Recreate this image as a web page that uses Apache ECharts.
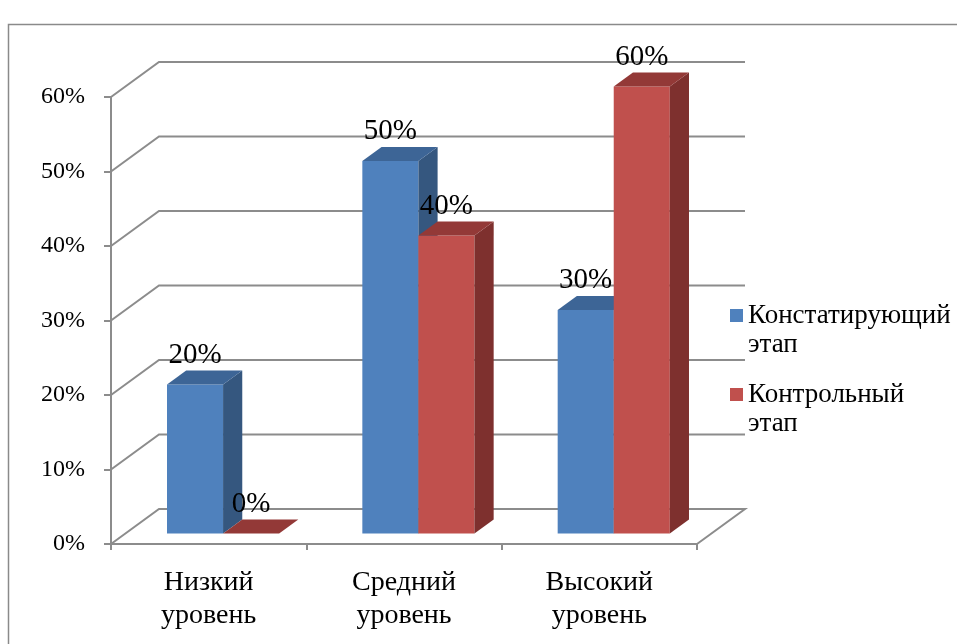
<!DOCTYPE html>
<html>
<head>
<meta charset="utf-8">
<script src="https://cdn.jsdelivr.net/npm/echarts@6/dist/echarts.min.js"></script>
<style>
html,body{margin:0;padding:0;background:#fff;}
#chart{width:957px;height:644px;}
</style>
</head>
<body>
<div id="chart"></div>
<script>
// ---- data ----
const categories = ['Низкий уровень', 'Средний уровень', 'Высокий уровень'];
const seriesNames = ['Констатирующий этап', 'Контрольный этап'];
const valuesConst = [20, 50, 30];
const valuesControl = [0, 40, 60];
const yTicks = [0, 10, 20, 30, 40, 50, 60];

// ---- styling ----
const FONT = "'Liberation Serif', 'Times New Roman', serif";
const GRID_COLOR = '#8c8c8c';
const DX = 48, DY = -35;      // full depth of the 3D box
const F0 = 0.3, FD = 0.4;     // bar front depth fraction and bar depth fraction
const BAR_FRAC = 0.287;       // bar width as fraction of the band
const palettes = [
  { front: '#4F81BD', top: '#3D6596', side: '#35577F' },
  { front: '#C0504D', top: '#933937', side: '#7E302E' }
];

function wallRender(params, api) {
  const v = api.value(1);
  const band = api.size([1, 0])[0];
  const last = categories.length - 1;
  const pl = api.coord([0, v]);
  const pr = api.coord([last, v]);
  const lx = pl[0] - band / 2, rx = pr[0] + band / 2, y = pl[1];
  const pts = [[lx, y], [lx + DX, y + DY], [rx + DX, y + DY]];
  if (v === 0) pts.push([rx, y]);
  return {
    type: 'polyline',
    shape: { points: pts },
    style: { stroke: GRID_COLOR, lineWidth: 2, fill: null },
    silent: true
  };
}

function barRender(si) {
  return function (params, api) {
    const cat = api.value(0), v = api.value(1);
    const band = api.size([1, 0])[0];
    const base = api.coord([cat, 0]);
    const top = api.coord([cat, v]);
    const bw = band * BAR_FRAC;
    const sx = DX * F0, sy = DY * F0;
    const ddx = DX * FD, ddy = DY * FD;
    const x0 = base[0] + (si === 0 ? -bw : 0) + sx;
    const x1 = x0 + bw;
    const yb = base[1] + sy, yt = top[1] + sy;
    const p = palettes[si];
    const children = [];
    if (yb - yt > 0.5) {
      children.push({ type: 'rect', shape: { x: x0, y: yt, width: bw, height: yb - yt }, style: { fill: p.front } });
      children.push({ type: 'polygon', shape: { points: [[x1, yt], [x1 + ddx, yt + ddy], [x1 + ddx, yb + ddy], [x1, yb]] }, style: { fill: p.side } });
    }
    children.push({ type: 'polygon', shape: { points: [[x0, yt], [x1, yt], [x1 + ddx, yt + ddy], [x0 + ddx, yt + ddy]] }, style: { fill: p.top } });
    children.push({
      type: 'text', z2: 100,
      style: {
        text: v + '%', x: (x0 + x1) / 2, y: yt - 15,
        align: 'center', verticalAlign: 'bottom',
        font: '29px ' + FONT, fill: '#000'
      }
    });
    return { type: 'group', children: children };
  };
}

const chart = echarts.init(document.getElementById('chart'), null, { renderer: 'canvas' });
chart.setOption({
  backgroundColor: '#fff',
  animation: false,
  graphic: [{
    type: 'rect', silent: true,
    shape: { x: 8.5, y: 24.5, width: 1000, height: 700 },
    style: { fill: null, stroke: '#8a8a8a', lineWidth: 1.5 }
  }],
  grid: { left: 111, right: 260, top: 97, bottom: 100 },
  legend: {
    orient: 'vertical',
    left: 725, top: 296,
    data: seriesNames,
    icon: 'path://M0,0H13V13H0Z M0,42L0,42',
    itemWidth: 13, itemHeight: 42,
    itemGap: 21,
    formatter: function (n) { return n.replace(' ', '\n'); },
    textStyle: { fontFamily: FONT, fontSize: 27, color: '#000', lineHeight: 29 }
  },
  xAxis: {
    type: 'category',
    data: categories,
    boundaryGap: true,
    axisLine: { show: true, lineStyle: { color: GRID_COLOR, width: 2 } },
    axisTick: { show: true, alignWithLabel: false, length: 6, lineStyle: { color: GRID_COLOR, width: 2 } },
    axisLabel: {
      margin: 22, color: '#000', fontFamily: FONT, fontSize: 28, lineHeight: 33,
      formatter: function (n) { return n.replace(' ', '\n'); }
    },
    splitLine: { show: false }
  },
  yAxis: {
    type: 'value',
    min: 0, max: 60, interval: 10,
    axisLine: { show: true, lineStyle: { color: GRID_COLOR, width: 2 } },
    axisTick: { show: true, length: 7, lineStyle: { color: GRID_COLOR, width: 2 } },
    axisLabel: { margin: 26, color: '#000', fontFamily: FONT, fontSize: 24, formatter: '{value}%' },
    splitLine: { show: false }
  },
  series: [
    {
      type: 'custom', name: 'walls', silent: true, z: 1,
      renderItem: wallRender,
      data: yTicks.map(function (t) { return [0, t]; }),
      encode: { x: 0, y: 1 }
    },
    {
      type: 'custom', name: seriesNames[0], z: 2,
      itemStyle: { color: palettes[0].front },
      renderItem: barRender(0),
      data: valuesConst.map(function (v, i) { return [i, v]; }),
      encode: { x: 0, y: 1 }
    },
    {
      type: 'custom', name: seriesNames[1], z: 3,
      itemStyle: { color: palettes[1].front },
      renderItem: barRender(1),
      data: valuesControl.map(function (v, i) { return [i, v]; }),
      encode: { x: 0, y: 1 }
    }
  ]
});
</script>
</body>
</html>
